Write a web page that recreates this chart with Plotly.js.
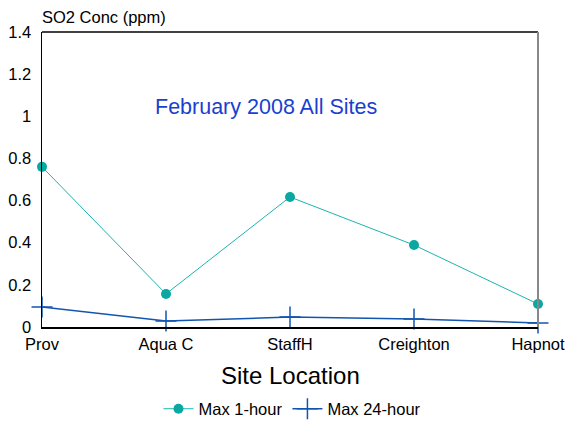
<!DOCTYPE html>
<html><head><meta charset="utf-8">
<script src="https://cdn.plot.ly/plotly-3.0.1.min.js"></script>
<style>html,body{margin:0;padding:0;background:#fff}#c{width:574px;height:424px}</style>
</head><body><div id="c"></div>
<script>
const sites = ["Prov", "Aqua C", "StaffH", "Creighton", "Hapnot"];
const max1hour = [0.76, 0.157, 0.617, 0.389, 0.109];
const max24hour = [0.095, 0.028, 0.047, 0.038, 0.019];
const yTicks = [0, 0.2, 0.4, 0.6, 0.8, 1, 1.2, 1.4];

const font = "Liberation Sans, Arial, sans-serif";
const traces = [
  {x: sites, y: max1hour, name: "Max 1-hour", type: "scatter", mode: "lines+markers",
   line: {color: "#1ab5b0", width: 1}, marker: {color: "#0aa8a0", size: 10, symbol: "circle"}, cliponaxis: false},
  {x: sites, y: max24hour, name: "Max 24-hour", type: "scatter", mode: "lines+markers",
   line: {color: "#1255b0", width: 1.5}, marker: {color: "#1255b0", size: 15, symbol: "cross-thin", line: {color: "#1255b0", width: 1.5}}, cliponaxis: false}
];
const layout = {
  width: 574, height: 424,
  margin: {l: 42, r: 36, t: 32, b: 97, autoexpand: false},
  paper_bgcolor: "#fff", plot_bgcolor: "#fff",
  font: {family: font, color: "#000"},
  showlegend: true,
  legend: {orientation: "h", x: 0.505, xanchor: "center", y: -0.278, yanchor: "middle", font: {size: 16.5, family: font}, itemwidth: 30, tracegroupgap: 0},
  xaxis: {type: "category", range: [0, 4], showgrid: false, zeroline: false, showline: true, linecolor: "#000", linewidth: 1.5,
    ticks: "", tickfont: {size: 16.5}, ticklabelstandoff: 2, automargin: false},
  yaxis: {range: [0, 1.4], tickvals: yTicks, ticktext: yTicks.map(String), showgrid: false, zeroline: false,
    showline: true, linecolor: "#000", linewidth: 1.5, ticks: "", tickfont: {size: 16.5}, ticklabelstandoff: 6, automargin: false},
  shapes: [
    {type: "line", xref: "paper", yref: "paper", x0: 0, x1: 1, y0: 1, y1: 1, line: {color: "#000", width: 1.5}},
    {type: "line", xref: "paper", yref: "paper", x0: 1, x1: 1, y0: 0, y1: 1, line: {color: "#888", width: 2}}
  ],
  annotations: [
    {text: "SO2 Conc (ppm)", xref: "paper", yref: "paper", x: 0, y: 1, xanchor: "left", yanchor: "middle", yshift: 15, xshift: -2, showarrow: false, font: {size: 16.5}},
    {text: "February 2008 All Sites", xref: "paper", yref: "paper", x: 0.452, y: 0.746, xanchor: "center", yanchor: "middle", showarrow: false, font: {size: 21.5, color: "#1a3fd0"}},
    {text: "Site Location", xref: "paper", yref: "paper", x: 0.5, y: -0.166, xanchor: "center", yanchor: "middle", showarrow: false, font: {size: 24}}
  ]
};
Plotly.newPlot("c", traces, layout, {displayModeBar: false, staticPlot: true});
</script></body></html>
